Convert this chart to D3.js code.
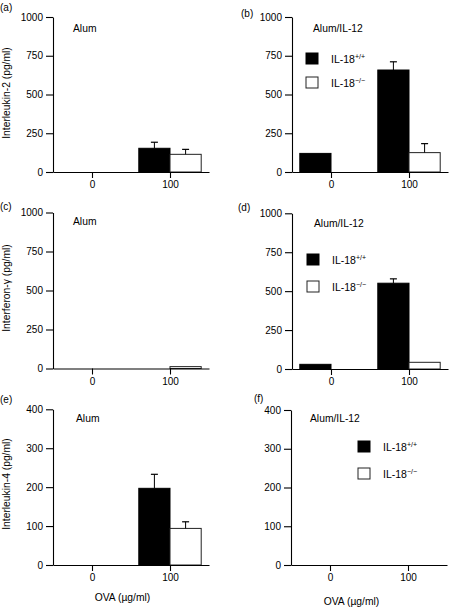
<!DOCTYPE html>
<html><head><meta charset="utf-8">
<script src="https://cdn.jsdelivr.net/npm/d3@7"></script>
<style>
body{margin:0;background:#fff}
svg{display:block}
text{font-family:"Liberation Sans",Arial,Helvetica,sans-serif;fill:#000}
</style>
</head><body><svg id="c" width="449" height="607"></svg>
<script>
// ---- data ----
const doses = [0, 100];
const yTicks1000 = [0, 250, 500, 750, 1000];
const yTicks400 = [0, 100, 200, 300, 400];
const seriesNames = ["IL-18", "IL-18"];
const seriesSup = ["+/+", "\u2212/\u2212"];

const il2AlumWT = [0, 153], il2AlumWTErr = [0, 39];
const il2AlumKO = [0, 114], il2AlumKOErr = [0, 32];
const il2Il12WT = [120, 658], il2Il12WTErr = [0, 53];
const il2Il12KO = [0, 125], il2Il12KOErr = [0, 58];

const ifnAlumWT = [0, 0], ifnAlumWTErr = [0, 0];
const ifnAlumKO = [0, 12], ifnAlumKOErr = [0, 0];
const ifnIl12WT = [30, 551], ifnIl12WTErr = [0, 28];
const ifnIl12KO = [0, 43], ifnIl12KOErr = [0, 0];

const il4AlumWT = [0, 197], il4AlumWTErr = [0, 36];
const il4AlumKO = [0, 94], il4AlumKOErr = [0, 17];
const il4Il12WT = [0, 0], il4Il12WTErr = [0, 0];
const il4Il12KO = [0, 0], il4Il12KOErr = [0, 0];

// ---- layout ----
const panels = [
  {ax:53, yTop:17, y0:172, lab:"(a)", lx:0, ly:11, title:"Alum", tx:73, ty:32,
   ylabel:"Interleukin-2 (pg/ml)", yly:93, max:1000, ticks:yTicks1000,
   wt:il2AlumWT, wtE:il2AlumWTErr, ko:il2AlumKO, koE:il2AlumKOErr},
  {ax:292, yTop:17, y0:172, lab:"(b)", lx:241, ly:17, title:"Alum/IL-12", tx:313, ty:32,
   max:1000, ticks:yTicks1000, legend:{sx:306, sy:53, gap:24, tx:331},
   wt:il2Il12WT, wtE:il2Il12WTErr, ko:il2Il12KO, koE:il2Il12KOErr},
  {ax:53, yTop:212.5, y0:368.5, lab:"(c)", lx:0, ly:210, title:"Alum", tx:73, ty:225,
   ylabel:"Interferon-\u03b3 (pg/ml)", yly:288, max:1000, ticks:yTicks1000,
   wt:ifnAlumWT, wtE:ifnAlumWTErr, ko:ifnAlumKO, koE:ifnAlumKOErr},
  {ax:292, yTop:213.3, y0:369, lab:"(d)", lx:238, ly:211, title:"Alum/IL-12", tx:314, ty:227,
   max:1000, ticks:yTicks1000, legend:{sx:307, sy:254, gap:27, tx:332},
   wt:ifnIl12WT, wtE:ifnIl12WTErr, ko:ifnIl12KO, koE:ifnIl12KOErr},
  {ax:53, yTop:409.3, y0:565, lab:"(e)", lx:0, ly:403, title:"Alum", tx:76, ty:422,
   ylabel:"Interleukin-4 (pg/ml)", yly:484, max:400, ticks:yTicks400,
   xlabel:"OVA (\u00b5g/ml)", xlx:122.5, xly:601,
   wt:il4AlumWT, wtE:il4AlumWTErr, ko:il4AlumKO, koE:il4AlumKOErr},
  {ax:291, yTop:410, y0:565, lab:"(f)", lx:254, ly:402, title:"Alum/IL-12", tx:310, ty:422,
   max:400, ticks:yTicks400, legend:{sx:358, sy:441, gap:27, tx:383},
   xlabel:"OVA (\u00b5g/ml)", xlx:351.5, xly:605,
   wt:il4Il12WT, wtE:il4Il12WTErr, ko:il4Il12KO, koE:il4Il12KOErr}
];

const svg = d3.select("#c");
const barW = 40; // in dose units
const capW = 7;

panels.forEach(p => {
  const g = svg.append("g");
  const x = d3.scaleLinear().domain([-50, 150]).range([p.ax, p.ax + 156]);
  const y = d3.scaleLinear().domain([0, p.max]).range([p.y0, p.yTop]);

  const draw = (vals, errs, off, fill, stroke) => {
    doses.forEach((d, i) => {
      const v = vals[i];
      if (v > 0) {
        g.append("rect")
          .attr("x", x(d + off)).attr("width", x(barW) - x(0))
          .attr("y", y(v)).attr("height", y(0) - y(v))
          .attr("fill", fill).attr("stroke", stroke).attr("stroke-width", 1);
      }
      if (errs[i] > 0) {
        const cx = x(d + off + barW / 2);
        g.append("line").attr("x1", cx).attr("x2", cx)
          .attr("y1", y(v)).attr("y2", y(v + errs[i]))
          .attr("stroke", "#000").attr("stroke-width", 1);
        g.append("line").attr("x1", cx - capW / 2).attr("x2", cx + capW / 2)
          .attr("y1", y(v + errs[i])).attr("y2", y(v + errs[i]))
          .attr("stroke", "#000").attr("stroke-width", 1.2);
      }
    });
  };
  draw(p.wt, p.wtE, -barW, "#000", "#000");
  draw(p.ko, p.koE, 0, "#fff", "#222");

  const ya = g.append("g").attr("transform", `translate(${p.ax},0)`)
    .call(d3.axisLeft(y).tickValues(p.ticks).tickFormat(d3.format("d"))
      .tickSize(7).tickPadding(3).tickSizeOuter(0));
  const xa = g.append("g").attr("transform", `translate(0,${p.y0})`)
    .call(d3.axisBottom(x).tickValues(doses).tickFormat(d3.format("d"))
      .tickSize(6).tickPadding(3).tickSizeOuter(0));
  [ya, xa].forEach(a => {
    a.selectAll("path,line").attr("stroke", "#000").attr("stroke-width", 1.1);
    a.selectAll("text").attr("font-size", "10px").attr("fill", "#000")
      .style("font-family", '"Liberation Sans",Arial,sans-serif');
  });

  g.append("text").attr("x", p.lx).attr("y", p.ly).attr("font-size", "10px").text(p.lab);
  g.append("text").attr("x", p.tx).attr("y", p.ty).attr("font-size", "10.3px").text(p.title);

  if (p.ylabel) {
    g.append("text").attr("transform", `translate(10,${p.yly}) rotate(-90)`)
      .attr("text-anchor", "middle").attr("font-size", "10.3px").text(p.ylabel);
  }
  if (p.xlabel) {
    g.append("text").attr("x", p.xlx).attr("y", p.xly).attr("text-anchor", "middle")
      .attr("font-size", "10.3px").text(p.xlabel);
  }
  if (p.legend) {
    const L = p.legend;
    [0, 1].forEach(k => {
      const sy = L.sy + k * L.gap;
      g.append("rect").attr("x", L.sx).attr("y", sy).attr("width", 12).attr("height", 11)
        .attr("fill", k === 0 ? "#000" : "#fff").attr("stroke", k === 0 ? "#000" : "#222").attr("stroke-width", 1);
      const t = g.append("text").attr("x", L.tx).attr("y", sy + 9.5).attr("font-size", "10.5px");
      t.append("tspan").text(seriesNames[k]);
      t.append("tspan").attr("dy", -4).attr("font-size", "7px").text(seriesSup[k]);
    });
  }
});
</script>
</body></html>
